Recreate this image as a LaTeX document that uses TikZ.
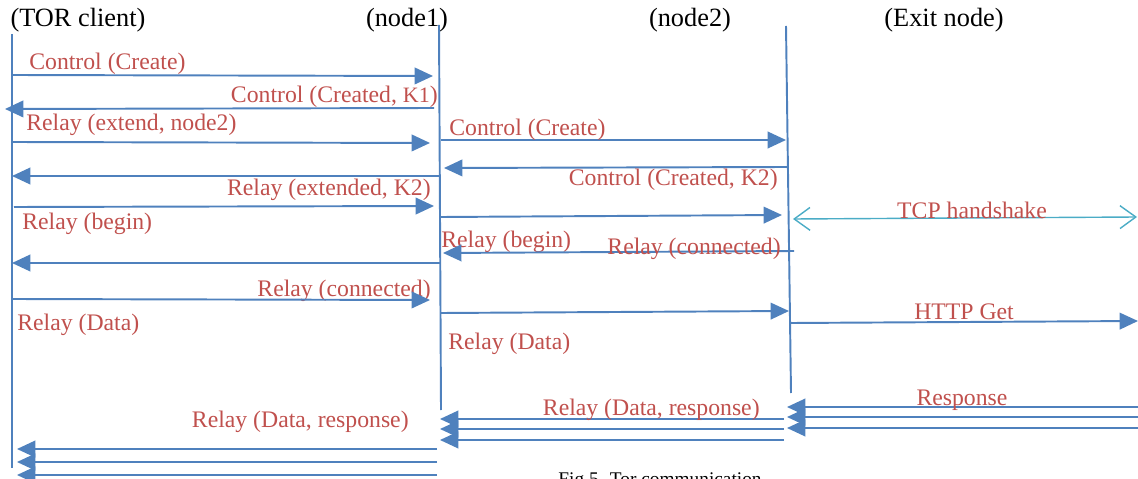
\documentclass[tikz,border=0pt]{standalone}
\usepackage{fontspec}
\setmainfont{Liberation Serif}
\usetikzlibrary{arrows.meta}

\definecolor{lineblue}{RGB}{79,129,189}
\definecolor{msgred}{RGB}{192,80,77}
\definecolor{tcpcyan}{RGB}{75,172,198}

\tikzset{
  life/.style={draw=lineblue, line width=1.1pt},
  msg/.style={draw=lineblue, line width=1.1pt, -{Triangle[length=10.5pt,width=9.5pt]}},
  tcp/.style={draw=tcpcyan, line width=0.8pt, {Straight Barb[length=9pt,width=13pt]}-{Straight Barb[length=9pt,width=13pt]}},
  lbl/.style={text=msgred, font=\fontsize{13.5}{16}\selectfont, inner sep=0pt},
  head/.style={font=\fontsize{15}{18}\selectfont, inner sep=0pt},
}

\begin{document}
\begin{tikzpicture}[x=0.02cm, y=-0.02cm]
\useasboundingbox (0,0) rectangle (1138,479);
\clip (0,0) rectangle (1138,479);

\node[head](H1) at (78,20) {(TOR client)};
\node[head](H2) at (407,20) {(node1)};
\node[head](H3) at (690,20) {(node2)};
\node[head](H4) at (944,20) {(Exit node)};

% lifelines
\coordinate (C1) at (12,34);
\coordinate (C2) at (12,468);
\coordinate (N1) at (439,25);
\coordinate (N2) at (441,410);
\coordinate (X1) at (786,26);
\coordinate (X2) at (791,393);
\draw[life](C1) -- (C2);
\draw[life](N1) -- (N2);
\draw[life](X1) -- (X2);

% circuit to node1
\coordinate (m1a) at (12,75);
\coordinate (m1b) at (433,76);
\draw[msg](m1a) -- (m1b);
\node[lbl, anchor=west](l1) at (29,64) {Control (Create)};
\coordinate (m2a) at (434,108);
\coordinate (m2b) at (5,109);
\draw[msg](m2a) -- (m2b);
\node[lbl, anchor=east](l2) at (438,97) {Control (Created, {\fontsize{12.5}{15}\selectfont K1})};
\coordinate (m3a) at (12,142);
\coordinate (m3b) at (430,143);
\draw[msg](m3a) -- (m3b);
\node[lbl, anchor=west](l3) at (26,125) {Relay (extend, node2)};

% extend to node2
\coordinate (m4a) at (441,140);
\coordinate (m4b) at (786,140);
\draw[msg](m4a) -- (m4b);
\node[lbl, anchor=west](l4) at (449,130) {Control (Create)};
\coordinate (m5a) at (787,167);
\coordinate (m5b) at (444,168);
\draw[msg](m5a) -- (m5b);
\node[lbl, anchor=east](l5) at (778,180) {Control (Created, K2)};
\coordinate (m6a) at (440,176);
\coordinate (m6b) at (12,176);
\draw[msg](m6a) -- (m6b);
\coordinate (m7a) at (14,207);
\coordinate (m7b) at (434,206);
\draw[msg](m7a) -- (m7b);
\node[lbl, anchor=east](l7) at (431,190) {Relay (extended, K2)};
\node[lbl, anchor=west](l8) at (22,224) {Relay (begin)};

% begin
\coordinate (m8a) at (441,217);
\coordinate (m8b) at (782,215);
\draw[msg](m8a) -- (m8b);
\coordinate (t1) at (793,219);
\coordinate (t2) at (1137,217);
\draw[tcp](t1) -- (t2);
\node[lbl](lt) at (972,210) {TCP handshake};
\node[lbl, anchor=west](l9) at (441,242) {Relay (begin)};
\coordinate (m9a) at (794,251);
\coordinate (m9b) at (443,253);
\draw[msg](m9a) -- (m9b);
\node[lbl, anchor=east](l10) at (781,249) {Relay (connected)};
\coordinate (m10a) at (440,263);
\coordinate (m10b) at (12,263);
\draw[msg](m10a) -- (m10b);
\node[lbl, anchor=east](l11) at (431,291) {Relay (connected)};

% data
\coordinate (m11a) at (12,299);
\coordinate (m11b) at (430,300);
\draw[msg](m11a) -- (m11b);
\node[lbl, anchor=west](l12) at (17,325) {Relay (Data)};
\coordinate (m12a) at (441,313);
\coordinate (m12b) at (789,311);
\draw[msg](m12a) -- (m12b);
\node[lbl, anchor=west](l13) at (448,344) {Relay (Data)};
\coordinate (m13a) at (791,323);
\coordinate (m13b) at (1138,321);
\draw[msg](m13a) -- (m13b);
\node[lbl](lh) at (964,312) {HTTP Get};

% response
\coordinate (r1a) at (1140,407);
\coordinate (r1b) at (787,407);
\draw[msg](r1a) -- (r1b);
\coordinate (r2a) at (1140,417);
\coordinate (r2b) at (787,417);
\draw[msg](r2a) -- (r2b);
\coordinate (r3a) at (1140,428);
\coordinate (r3b) at (787,428);
\draw[msg](r3a) -- (r3b);
\node[lbl](lr) at (962,400) {Response};
\coordinate (d1a) at (784,419);
\coordinate (d1b) at (440,419);
\draw[msg](d1a) -- (d1b);
\coordinate (d2a) at (784,429);
\coordinate (d2b) at (440,429);
\draw[msg](d2a) -- (d2b);
\coordinate (d3a) at (784,440);
\coordinate (d3b) at (440,440);
\draw[msg](d3a) -- (d3b);
\node[lbl, anchor=east](ld) at (760,410) {Relay (Data, response)};
\coordinate (e1a) at (437,449);
\coordinate (e1b) at (17,449);
\draw[msg](e1a) -- (e1b);
\coordinate (e2a) at (437,462);
\coordinate (e2b) at (17,462);
\draw[msg](e2a) -- (e2b);
\coordinate (e3a) at (437,475);
\coordinate (e3b) at (17,475);
\draw[msg](e3a) -- (e3b);
\node[lbl, anchor=east](le) at (409,422) {Relay (Data, response)};

\node[font=\fontsize{11}{13}\selectfont, inner sep=0pt, anchor=north](cap) at (660,472) {Fig 5. Tor communication};
\end{tikzpicture}
\end{document}
